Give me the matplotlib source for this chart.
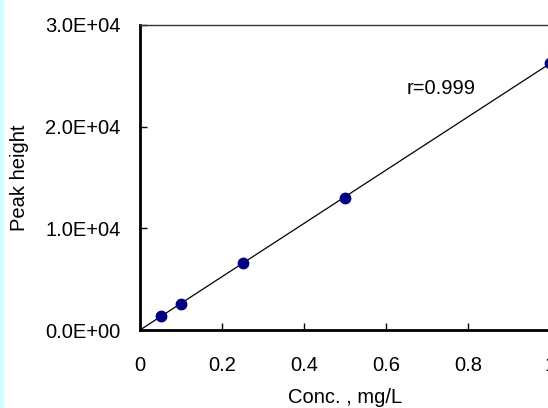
import matplotlib
matplotlib.use('Agg')
import matplotlib.pyplot as plt
import numpy as np

# calibration data
conc = [0.05, 0.1, 0.25, 0.5, 1.0]
peak_height = [1380, 2530, 6620, 13000, 26250]
x_ticks = [0, 0.2, 0.4, 0.6, 0.8, 1.0]
x_tick_labels = ['0', '0.2', '0.4', '0.6', '0.8', '1']
y_ticks = [0, 10000, 20000, 30000]
y_tick_labels = ['0.0E+00', '1.0E+04', '2.0E+04', '3.0E+04']

plt.rcParams['font.family'] = ['Liberation Sans', 'DejaVu Sans']
fs = 14.5

fig = plt.figure(figsize=(5.48, 4.08), dpi=100)
# light cyan strip on the left edge
fig.patches.append(plt.Rectangle((0, 0), 2.5 / 548, 1, transform=fig.transFigure,
                                 color='#ccffff', zorder=0))

ax = fig.add_axes([140 / 548, 78 / 408, 492 / 548, 305 / 408])

# linear fit through origin
slope = np.sum(np.array(conc) * np.array(peak_height)) / np.sum(np.array(conc) ** 2)
fit_x = np.array([0, 1.0])
ax.plot(fit_x, slope * fit_x, color='black', lw=0.9, zorder=2)
ax.plot(conc, peak_height, 'o', color='#000080', markersize=7.5, zorder=3,
        clip_on=False)

ax.set_xlim(0, 1.2)
ax.set_ylim(0, 30000)
ax.set_xticks(x_ticks)
ax.set_xticklabels(x_tick_labels)
ax.set_yticks(y_ticks)
ax.set_yticklabels(y_tick_labels)
ax.tick_params(direction='in', length=5, width=1, labelsize=fs)
ax.tick_params(axis='y', pad=14)
ax.tick_params(axis='x', pad=19)

ax.spines['left'].set_linewidth(2)
ax.spines['bottom'].set_linewidth(2)
ax.spines['top'].set_linewidth(1)
ax.spines['top'].set_color('#333333')
ax.spines['right'].set_visible(False)

ax.text(0.65, 23200, 'r=0.999', fontsize=fs)

fig.text(20 / 548, 1 - 178 / 408, 'Peak height', rotation=90, fontsize=fs,
         ha='center', va='center')
fig.text(345 / 548, 5 / 408, 'Conc. , mg/L', fontsize=fs,
         ha='center', va='baseline')

fig.savefig('out.png', dpi=100)
